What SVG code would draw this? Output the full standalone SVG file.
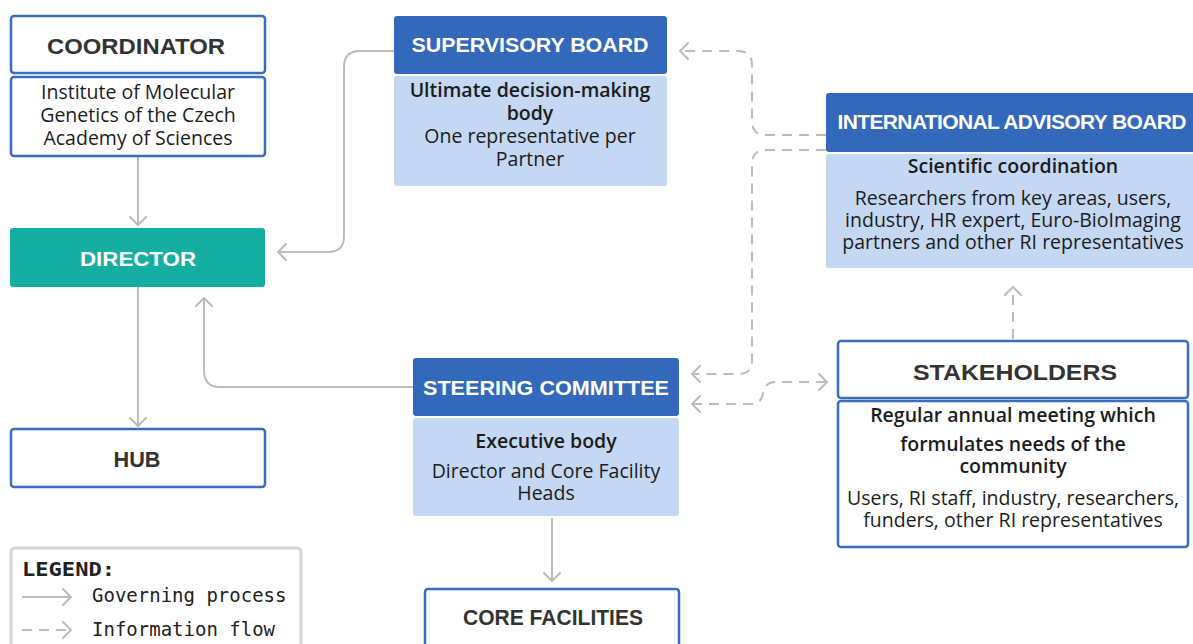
<svg xmlns="http://www.w3.org/2000/svg" width="1193" height="644" viewBox="0 0 1193 644">
<style>
.wbox{fill:#ffffff;stroke:#3a6cc0;stroke-width:2.5}
.bhead{fill:#3368ba}
.lbody{fill:#c4d7f3}
.teal{fill:#14aea3}
.tw{font-family:"Liberation Sans",Arial,sans-serif;font-weight:700;font-size:21px;fill:#ffffff;text-anchor:middle}
.td{font-family:"Liberation Sans",Arial,sans-serif;font-weight:700;font-size:22px;fill:#333333;text-anchor:middle}
.b{font-family:"Open Sans","Noto Sans",sans-serif;font-size:19.5px;fill:#1c1c1c;text-anchor:middle}
.s{font-weight:600}
.gov{fill:none;stroke:#bcbcbc;stroke-width:2}
.info{fill:none;stroke:#bcbcbc;stroke-width:2;stroke-dasharray:10 7}
.mono{font-family:"DejaVu Sans Mono","Liberation Mono",monospace;font-size:19px;fill:#222222}
</style>
<defs>
<marker id="arr" viewBox="0 0 10 18" refX="9" refY="9" markerWidth="10" markerHeight="18" markerUnits="userSpaceOnUse" orient="auto-start-reverse">
<path d="M1,1 L9,9 L1,17" fill="none" stroke="#bcbcbc" stroke-width="2" stroke-linecap="round" stroke-linejoin="round"/>
</marker>
</defs>

<g id="connectors">
<path class="gov" d="M138,157 V225" marker-end="url(#arr)"/>
<path class="gov" d="M394,51 H360 Q344,51 344,67 V236 Q344,252 328,252 H278" marker-end="url(#arr)"/>
<path class="gov" d="M138,287 V426" marker-end="url(#arr)"/>
<path class="gov" d="M413,387 H220 Q204,387 204,371 V298" marker-end="url(#arr)"/>
<path class="gov" d="M552,518 V581" marker-end="url(#arr)"/>
<path class="info" d="M826,135 H766 Q752,135 752,121 V65 Q752,51 738,51 H680" marker-end="url(#arr)"/>
<path class="info" d="M826,150 H766 Q752,150 752,164 V361 Q752,374 738,374 H692" marker-end="url(#arr)"/>
<path class="info" d="M692,404 H750 Q762,404 763,393 L764,392 Q765,382 776,382 H827" marker-start="url(#arr)" marker-end="url(#arr)"/>
<path class="info" d="M1013,339 V287" marker-end="url(#arr)"/>
</g>

<g id="coordinator">
<rect class="wbox" x="11" y="16" width="254" height="57" rx="3"/>
<rect class="wbox" x="11" y="77" width="254" height="79" rx="3"/>
<text class="td" x="136" y="54" font-size="23.5" textLength="178" lengthAdjust="spacingAndGlyphs">COORDINATOR</text>
<text class="b" x="138" y="99">Institute of Molecular</text>
<text class="b" x="138" y="122">Genetics of the Czech</text>
<text class="b" x="138" y="145">Academy of Sciences</text>
</g>

<g id="director">
<rect class="teal" x="10" y="228" width="255" height="59" rx="3"/>
<text class="tw" x="138" y="266" font-size="22.5" textLength="116" lengthAdjust="spacingAndGlyphs">DIRECTOR</text>
</g>

<g id="hub">
<rect class="wbox" x="11" y="429" width="254" height="58" rx="3"/>
<text class="td" x="137" y="467" font-size="21.5" textLength="47" lengthAdjust="spacingAndGlyphs">HUB</text>
</g>

<g id="supervisory-board">
<rect class="bhead" x="394" y="16" width="273" height="58" rx="3"/>
<rect class="lbody" x="394" y="76" width="273" height="110" rx="3"/>
<text class="tw" x="530" y="52" font-size="21.3" textLength="237" lengthAdjust="spacingAndGlyphs">SUPERVISORY BOARD</text>
<text class="b s" x="530" y="97">Ultimate decision-making</text>
<text class="b s" x="530" y="120">body</text>
<text class="b" x="530" y="143">One representative per</text>
<text class="b" x="530" y="166">Partner</text>
</g>

<g id="international-advisory-board">
<rect class="bhead" x="826" y="93" width="380" height="59" rx="3"/>
<rect class="lbody" x="826" y="154" width="380" height="114" rx="3"/>
<text class="tw" x="1012" y="129" font-size="19" textLength="349">INTERNATIONAL ADVISORY BOARD</text>
<text class="b s" x="1013" y="173">Scientific coordination</text>
<text class="b" x="1013" y="205">Researchers from key areas, users,</text>
<text class="b" x="1013" y="227">industry, HR expert, Euro-BioImaging</text>
<text class="b" x="1013" y="249">partners and other RI representatives</text>
</g>

<g id="steering-committee">
<rect class="bhead" x="413" y="358" width="266" height="58" rx="3"/>
<rect class="lbody" x="413" y="418" width="266" height="98" rx="3"/>
<text class="tw" x="546" y="395" font-size="21.6" textLength="246" lengthAdjust="spacingAndGlyphs">STEERING COMMITTEE</text>
<text class="b s" x="546" y="448">Executive body</text>
<text class="b" x="546" y="478">Director and Core Facility</text>
<text class="b" x="546" y="500">Heads</text>
</g>

<g id="stakeholders">
<rect class="wbox" x="838" y="341" width="350" height="57" rx="3"/>
<rect class="wbox" x="838" y="401" width="350" height="146" rx="3"/>
<text class="td" x="1015" y="380" font-size="25" textLength="204" lengthAdjust="spacingAndGlyphs">STAKEHOLDERS</text>
<text class="b s" x="1013" y="422">Regular annual meeting which</text>
<text class="b s" x="1013" y="451">formulates needs of the</text>
<text class="b s" x="1013" y="473">community</text>
<text class="b" x="1013" y="505">Users, RI staff, industry, researchers,</text>
<text class="b" x="1013" y="527">funders, other RI representatives</text>
</g>

<g id="core-facilities">
<rect class="wbox" x="425" y="589" width="254" height="70" rx="3"/>
<text class="td" x="553" y="625" font-size="21.5" textLength="180" lengthAdjust="spacingAndGlyphs">CORE FACILITIES</text>
</g>

<g id="legend">
<rect x="11" y="548" width="290" height="110" rx="4" fill="#ffffff" stroke="#d5d5d5" stroke-width="3"/>
<text class="mono" x="22" y="576" font-weight="700" font-size="21" textLength="93" lengthAdjust="spacingAndGlyphs">LEGEND:</text>
<path class="gov" d="M22,597 H71" marker-end="url(#arr)"/>
<text class="mono" x="92" y="602">Governing process</text>
<path class="info" d="M22,630 H71" stroke-dasharray="9 6" marker-end="url(#arr)"/>
<text class="mono" x="92" y="636">Information flow</text>
</g>
</svg>
